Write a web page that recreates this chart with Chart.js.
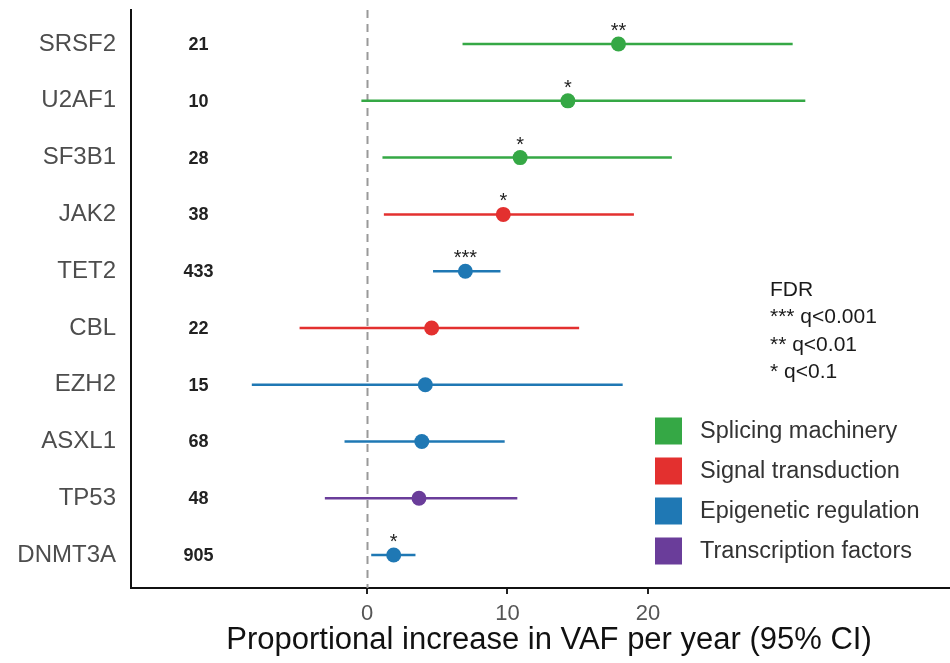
<!DOCTYPE html>
<html lang="en">
<head>
  <meta charset="UTF-8" />
  <title>VAF forest plot</title>
  <script src="https://cdn.jsdelivr.net/npm/chart.js"></script>
  <style>
    html, body { margin: 0; padding: 0; background: #fff; overflow: hidden; }
    #wrap { width: 950px; height: 663px; }
  </style>
</head>
<body>
  <div id="wrap"><canvas id="forest"></canvas></div>

  <script>
    // rows top to bottom
    const genes = ['SRSF2', 'U2AF1', 'SF3B1', 'JAK2', 'TET2', 'CBL', 'EZH2', 'ASXL1', 'TP53', 'DNMT3A'];
    const counts = [21, 10, 28, 38, 433, 22, 15, 68, 48, 905];
    const estimate = [17.9, 14.3, 10.9, 9.7, 7.0, 4.6, 4.15, 3.9, 3.7, 1.9];
    const lower = [6.8, -0.4, 1.1, 1.2, 4.7, -4.8, -8.2, -1.6, -3.0, 0.3];
    const upper = [30.3, 31.2, 21.7, 19.0, 9.5, 15.1, 18.2, 9.8, 10.7, 3.45];
    const stars = ['**', '*', '*', '*', '***', '', '', '', '', '*'];
    const group = [0, 0, 0, 1, 2, 1, 2, 2, 3, 2];

    const groupNames = ['Splicing machinery', 'Signal transduction', 'Epigenetic regulation', 'Transcription factors'];
    const groupColors = ['#35a845', '#e3302f', '#1f78b4', '#6a3d9a'];
    const fdrLines = ['FDR', '*** q<0.001', '** q<0.01', '* q<0.1'];
    const xTicks = [0, 10, 20];
    const xTitle = 'Proportional increase in VAF per year (95% CI)';

    const countsAt = -12; // x value where the n column sits
    const rowY = i => genes.length - i;
    const FONT = '"Liberation Sans", Arial, sans-serif';

    const ciSets = genes.map((g, i) => ({
      type: 'line',
      data: [{ x: lower[i], y: rowY(i) }, { x: upper[i], y: rowY(i) }],
      borderColor: groupColors[group[i]],
      borderWidth: 2.5,
      pointRadius: 0,
      order: 2
    }));

    const pointSet = {
      type: 'scatter',
      data: genes.map((g, i) => ({ x: estimate[i], y: rowY(i) })),
      pointBackgroundColor: genes.map((g, i) => groupColors[group[i]]),
      pointBorderWidth: 0,
      pointRadius: 7.5,
      order: 1
    };

    const extras = {
      id: 'extras',
      beforeDatasetsDraw(chart) {
        const { ctx, chartArea, scales: { x } } = chart;
        const zx = Math.round(x.getPixelForValue(0)) + 0.5;
        ctx.save();
        ctx.strokeStyle = '#999';
        ctx.lineWidth = 2;
        ctx.setLineDash([8, 6]);
        ctx.beginPath();
        ctx.moveTo(zx, chartArea.top);
        ctx.lineTo(zx, chartArea.bottom);
        ctx.stroke();
        ctx.restore();
      },
      afterDatasetsDraw(chart) {
        const { ctx, scales: { x, y } } = chart;
        ctx.save();
        // n column
        ctx.fillStyle = '#222';
        ctx.font = 'bold 18px ' + FONT;
        ctx.textAlign = 'center';
        ctx.textBaseline = 'middle';
        genes.forEach((g, i) => {
          ctx.fillText(String(counts[i]), x.getPixelForValue(countsAt), y.getPixelForValue(rowY(i)) + 1);
        });
        // significance stars
        ctx.font = '20px ' + FONT;
        ctx.textBaseline = 'alphabetic';
        genes.forEach((g, i) => {
          if (!stars[i]) return;
          ctx.fillText(stars[i], x.getPixelForValue(estimate[i]), y.getPixelForValue(rowY(i)) - 7);
        });
        // FDR key
        ctx.textAlign = 'left';
        ctx.textBaseline = 'middle';
        ctx.fillStyle = '#1a1a1a';
        ctx.font = '21px ' + FONT;
        fdrLines.forEach((t, k) => ctx.fillText(t, 770, 290 + k * 27.5));
        // group legend
        ctx.font = '23.5px ' + FONT;
        groupNames.forEach((name, k) => {
          const cy = 431 + k * 40;
          ctx.fillStyle = groupColors[k];
          ctx.fillRect(655, cy - 13.5, 27, 27);
          ctx.fillStyle = '#333';
          ctx.fillText(name, 700, cy + 1);
        });
        // axis title (panel runs a little past the right edge, so centre is shifted)
        ctx.fillStyle = '#111';
        ctx.font = '31px ' + FONT;
        ctx.textAlign = 'center';
        ctx.fillText(xTitle, 549, 640);
        ctx.restore();
      }
    };

    new Chart(document.getElementById('forest'), {
      data: { datasets: [...ciSets, pointSet] },
      options: {
        responsive: true,
        maintainAspectRatio: false,
        animation: false,
        layout: { autoPadding: false, padding: { top: 10, right: 0, left: 0, bottom: 0 } },
        plugins: { legend: { display: false }, tooltip: { enabled: false } },
        scales: {
          x: {
            type: 'linear',
            min: -16.8,
            max: 41.5,
            afterBuildTicks: s => { s.ticks = xTicks.map(v => ({ value: v })); },
            afterFit: s => { s.height = 75; s.paddingLeft = 0; s.paddingRight = 0; },
            grid: { drawOnChartArea: false, drawTicks: true, tickLength: 6, color: '#222', lineWidth: 2 },
            border: { display: true, color: '#111', width: 2 },
            ticks: { color: '#555', font: { size: 22, family: FONT }, padding: 7 }
          },
          y: {
            type: 'linear',
            min: 0.42,
            max: 10.6,
            afterBuildTicks: s => { s.ticks = genes.map((g, i) => ({ value: rowY(i) })); },
            afterFit: s => { s.width = 131; s.paddingTop = 0; s.paddingBottom = 0; },
            grid: { display: false, drawTicks: false },
            border: { display: true, color: '#111', width: 2 },
            ticks: {
              color: '#4d4d4d',
              font: { size: 24, family: FONT },
              padding: 15,
              callback: v => genes[genes.length - v]
            }
          }
        }
      },
      plugins: [extras]
    });
  </script>
</body>
</html>
